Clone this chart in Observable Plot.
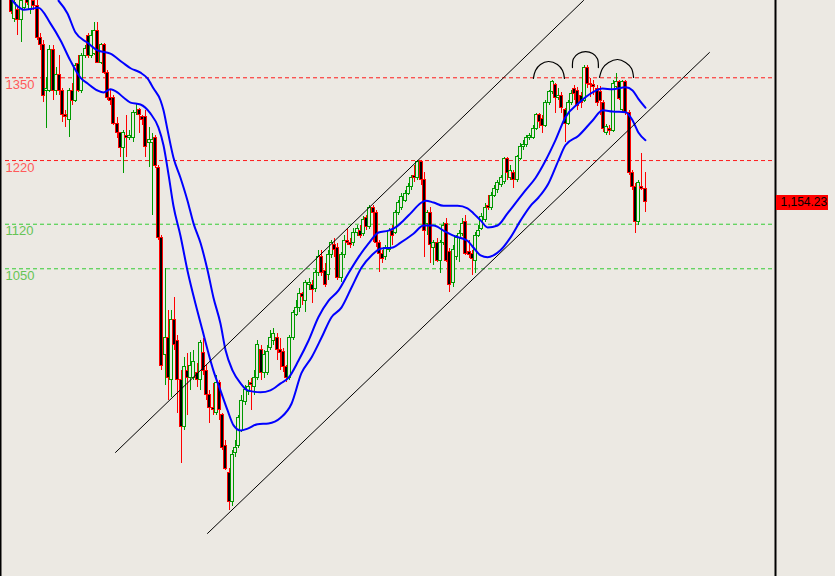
<!DOCTYPE html>
<html>
<head>
<meta charset="utf-8">
<script src="https://cdn.jsdelivr.net/npm/d3@7"></script>
<script src="https://cdn.jsdelivr.net/npm/@observablehq/plot@0.6"></script>
<style>
  html, body { margin: 0; padding: 0; background: #ece9e3; }
  #chart { width: 835px; height: 576px; overflow: hidden; }
</style>
</head>
<body>
<div id="chart"></div>
<script>
// Weekly OHLC candles (index 0..198)
const O = [1479,1443,1456,1440,1459,1476,1456,1471,1462,1413,
1401,1330,1330,1394,1330,1354,1330,1291,1283,1330,
1314,1372,1330,1385,1415,1385,1388,1424,1374,1401,
1358,1319,1319,1278,1263,1239,1259,1256,1255,1294,
1299,1288,1288,1247,1247,1255,1209,1098,914,942,
875,969,937,875,801,890,879,879,887,875,
917,890,851,832,824,870,820,772,730,683,
760,772,796,840,856,870,864,879,922,887,
887,925,937,942,922,919,895,879,941,978,
989,1011,1000,1024,1025,1019,1043,1068,1047,1040,
1071,1087,1082,1035,1071,1094,1091,1090,1107,1110,
1105,1129,1115,1146,1137,1091,1074,1068,1079,1110,
1107,1137,1146,1157,1168,1178,1195,1193,1217,1189,
1121,1137,1083,1090,1063,1090,1121,1076,1027,1068,
1098,1105,1123,1076,1074,1063,1102,1113,1126,1149,
1145,1165,1173,1181,1186,1223,1192,1200,1189,1223,
1241,1244,1255,1256,1270,1291,1286,1275,1310,1327,
1338,1319,1322,1299,1278,1310,1333,1330,1322,1314,
1365,1341,1338,1333,1327,1310,1264,1270,1267,1336,
1343,1299,1343,1295,1200,1178,1123,1178,1176];
const H = [1487,1479,1464,1479,1484,1484,1484,1479,1471,1420,
1409,1350,1401,1401,1366,1385,1333,1299,1333,1341,
1372,1385,1388,1401,1420,1424,1437,1437,1404,1404,
1362,1330,1322,1288,1264,1267,1291,1267,1299,1310,
1302,1291,1299,1272,1263,1259,1212,1102,1050,984,
984,1005,945,890,911,917,919,922,901,937,
941,898,859,870,882,875,823,780,736,765,
780,820,851,867,875,878,890,937,930,922,
930,953,956,948,941,925,898,945,984,1000,
1019,1013,1032,1035,1032,1047,1079,1079,1058,1079,
1094,1098,1090,1076,1102,1113,1098,1113,1118,1118,
1132,1134,1149,1149,1142,1094,1079,1087,1113,1118,
1142,1157,1168,1173,1184,1197,1212,1220,1220,1201,
1142,1146,1094,1098,1094,1123,1129,1082,1087,1102,
1110,1129,1134,1094,1079,1107,1118,1137,1153,1165,
1170,1181,1189,1197,1225,1225,1212,1204,1228,1247,
1252,1259,1263,1275,1294,1294,1291,1314,1330,1346,
1341,1333,1327,1302,1314,1330,1338,1335,1327,1369,
1369,1349,1346,1338,1336,1314,1277,1275,1346,1357,
1346,1346,1346,1299,1204,1184,1189,1231,1201];
const L = [1449,1437,1416,1405,1456,1464,1449,1456,1409,1393,
1311,1270,1327,1314,1322,1322,1280,1272,1256,1306,
1311,1327,1325,1380,1380,1380,1385,1372,1371,1355,
1314,1306,1275,1255,1225,1200,1225,1252,1248,1291,
1263,1275,1225,1209,1134,1208,1094,890,867,843,
848,922,823,744,796,820,859,875,864,859,
882,843,807,820,820,812,765,733,670,677,
754,768,793,835,851,828,851,875,875,878,
882,922,930,906,890,887,871,875,937,975,
981,992,981,1016,995,1013,1038,1038,1021,1032,
1066,1068,1032,1028,1066,1087,1082,1085,1101,1098,
1101,1110,1112,1091,1083,1044,1058,1063,1076,1087,
1104,1134,1142,1154,1165,1173,1186,1189,1181,1068,
1102,1058,1055,1060,1043,1087,1060,1013,1021,1063,
1060,1101,1071,1066,1040,1043,1099,1110,1123,1142,
1142,1162,1168,1178,1182,1189,1189,1176,1186,1220,
1236,1241,1252,1253,1267,1270,1263,1272,1306,1324,
1294,1314,1294,1248,1275,1306,1314,1299,1302,1311,
1333,1319,1322,1305,1291,1264,1259,1259,1264,1333,
1314,1295,1291,1197,1173,1105,1118,1173,1138];
const C = [1453,1468,1440,1471,1475,1467,1475,1462,1412,1401,
1322,1333,1394,1330,1355,1330,1291,1288,1330,1314,
1369,1330,1385,1396,1385,1416,1424,1374,1401,1358,
1319,1314,1278,1263,1239,1263,1256,1259,1295,1295,
1291,1283,1241,1252,1252,1212,1099,898,941,878,
969,930,875,801,895,878,898,903,875,933,
890,851,832,828,870,828,769,736,683,757,
769,815,843,859,865,868,878,930,886,914,
919,941,948,922,917,895,879,941,980,988,
1011,1005,1027,1028,1016,1043,1068,1043,1024,1071,
1090,1079,1035,1071,1094,1090,1087,1107,1113,1102,
1126,1115,1145,1137,1090,1074,1066,1082,1110,1102,
1138,1153,1162,1168,1178,1193,1192,1217,1189,1110,
1137,1087,1090,1063,1090,1118,1063,1024,1079,1099,
1104,1121,1074,1071,1066,1102,1110,1131,1146,1146,
1165,1176,1184,1192,1223,1200,1204,1189,1225,1241,
1244,1256,1259,1270,1291,1280,1275,1310,1327,1343,
1319,1322,1303,1278,1310,1325,1325,1306,1310,1365,
1341,1338,1335,1310,1314,1270,1272,1266,1341,1343,
1317,1343,1295,1200,1178,1123,1184,1176,1154.23];

// Two blue moving-average lines (bar index, price)
const maLowIdx = [0.3,3.8,6.9,8.4,12.2,15.3,18.4,21.6,23.8,26.9,28.8,30.9,33.1,35.0,37.2,40.3,43.4,45.9,47.5,49.1,50.6,52.8,55.0,57.5,59.7,61.3,63.1,65.3,67.5,69.4,71.6,73.8,76.9,80.3,84.1,87.5,90.6,93.8,96.9,100.0,103.1,106.3,109.4,112.5,115.6,118.8,121.6,125.6,128.8,131.9,135.0,138.1,142.5,144.4,146.6,148.8,150.6,152.8,155.9,159.1,162.2,164.7,167.8,170.9,173.1,177.2,181.6,184.7,187.8,191.9,194.1,195.9,198.1];
const maLowVal = [1471,1457,1459,1460,1435,1409,1377,1350,1341,1330,1327,1332,1327,1319,1311,1308,1294,1272,1244,1197,1149,1102,1047,995,953,922,890,859,828,804,796,799,806,807,816,838,886,911,942,974,989,1021,1052,1071,1082,1083,1091,1105,1118,1118,1110,1102,1094,1083,1071,1068,1071,1079,1099,1126,1149,1162,1184,1220,1244,1259,1283,1299,1297,1296,1283,1264,1252];
const maHighIdx = [14.7,17.5,20.0,23.8,26.9,30.9,34.7,37.2,40.3,42.5,44.4,46.6,47.5,48.8,50.6,52.8,55.0,56.9,59.1,61.3,63.1,65.3,66.9,69.1,71.6,73.8,77.8,80.9,84.1,86.6,89.7,92.8,95.9,99.1,102.2,105.3,108.4,111.6,114.7,117.8,120.0,122.5,124.7,127.8,129.4,131.9,135.0,139.4,142.5,144.4,146.6,148.8,151.9,155.0,158.1,160.6,163.8,166.9,170.0,173.1,177.2,181.6,184.7,187.8,191.9,194.1,195.9,198.1];
const maHighVal = [1471,1451,1421,1405,1393,1388,1374,1365,1358,1349,1333,1314,1299,1267,1225,1193,1157,1121,1090,1047,1005,964,922,890,870,859,856,859,870,879,906,937,974,1000,1016,1043,1068,1090,1107,1110,1115,1126,1137,1153,1157,1154,1149,1149,1145,1137,1126,1115,1118,1137,1157,1173,1193,1220,1252,1288,1310,1327,1333,1332,1335,1330,1317,1303];

// Trend channel (two lines, endpoints as bar index / price)
const channelId  = ["upper","upper","lower","lower"];
const channelIdx = [32.5, 178.75, 61.25, 218.1];
const channelVal = [761.5, 1471.4, 634.3, 1389.7];

// Three arcs over the tops
const arcId  = [1,1,1,1,1,1,1, 2,2,2,2,2,2,2, 3,3,3,3,3,3,3];
const arcIdx = [163.1,163.75,165.3,167.8,170.6,172.2,172.8, 175.3,175.6,177.2,179.4,181.6,183.1,183.4, 183.75,184.7,186.6,189.4,191.9,193.75,194.4];
const arcVal = [1349,1361.5,1371,1375.6,1371,1361.5,1349, 1366,1380,1388,1391,1388,1380,1366, 1350.5,1364.6,1374,1378.7,1374,1364.6,1350.5];

// Horizontal levels
const levels = [1350, 1220, 1120, 1050];
const levelType = ["resistance", "resistance", "support", "support"];
const lastPrice = 1154.23;

const BG = "#ece9e3", GREEN = "#009a00", RED = "#ff0000";

const candles = C.map((c, i) => ({i, open: O[i], high: H[i], low: L[i], close: c, up: c >= O[i]}));
const maLow = maLowIdx.map((x, k) => ({x, y: maLowVal[k]}));
const maHigh = maHighIdx.map((x, k) => ({x, y: maHighVal[k]}));
const channel = channelIdx.map((x, k) => ({x, y: channelVal[k], z: channelId[k]}));
const arcs = arcIdx.map((x, k) => ({x, y: arcVal[k], z: arcId[k]}));
const lv = levels.map((v, k) => ({v, t: levelType[k]}));

const plot = Plot.plot({
  width: 835,
  height: 576,
  marginLeft: 0,
  marginRight: 60,
  marginTop: 0,
  marginBottom: 0,
  style: {background: BG, fontFamily: "'Liberation Sans', Arial, sans-serif", overflow: "hidden"},
  x: {domain: [0, 198], range: [11, 644.6], axis: null},
  y: {domain: [566.7, 1471.4], range: [576, 0], axis: null},
  color: {type: "identity"},
  marks: [
    Plot.ruleY(lv, {y: "v", stroke: d => d.t === "resistance" ? "#ff1a1a" : "#33cc33", strokeDasharray: "4,3", insetLeft: 5}),
    Plot.text(lv, {y: "v", text: d => String(d.v), frameAnchor: "left", dx: 5, dy: 2, lineAnchor: "top", textAnchor: "start",
      fill: d => d.t === "resistance" ? "#ff5a5a" : "#66c455", fontSize: 13}),
    Plot.ruleX(candles, {x: "i", y1: "low", y2: "high", stroke: d => d.up ? GREEN : RED, strokeWidth: 1, clip: true, shapeRendering: "crispEdges"}),
    Plot.rect(candles, {x1: d => d.i - 0.45, x2: d => d.i + 0.45, y1: "open", y2: "close",
      fill: d => d.up ? BG : "#000000", stroke: d => d.up ? GREEN : RED, strokeWidth: 1, clip: true, shapeRendering: "crispEdges"}),
    Plot.line(maHigh, {x: "x", y: "y", stroke: "#0000ff", strokeWidth: 2, curve: "monotone-x", clip: true}),
    Plot.line(maLow, {x: "x", y: "y", stroke: "#0000ff", strokeWidth: 2, curve: "monotone-x", clip: true}),
    Plot.line(channel, {x: "x", y: "y", z: "z", stroke: "#000000", strokeWidth: 1, clip: true}),
    Plot.line(arcs, {x: "x", y: "y", z: "z", stroke: "#000000", strokeWidth: 1.2, curve: "catmull-rom", clip: true}),
    Plot.frame({anchor: "left", stroke: "#000000", strokeWidth: 2}),
    Plot.frame({anchor: "right", stroke: "#000000", strokeWidth: 2}),
    Plot.ruleY([lastPrice], {y: d => d, stroke: RED, strokeWidth: 15, insetLeft: 776, insetRight: -53}),
    Plot.text([lastPrice], {y: d => d, text: d => d3.format(",.2f")(d), frameAnchor: "right", dx: 5, textAnchor: "start",
      fill: "#000000", fontSize: 12})
  ]
});
document.getElementById("chart").appendChild(plot);
</script>
</body>
</html>
